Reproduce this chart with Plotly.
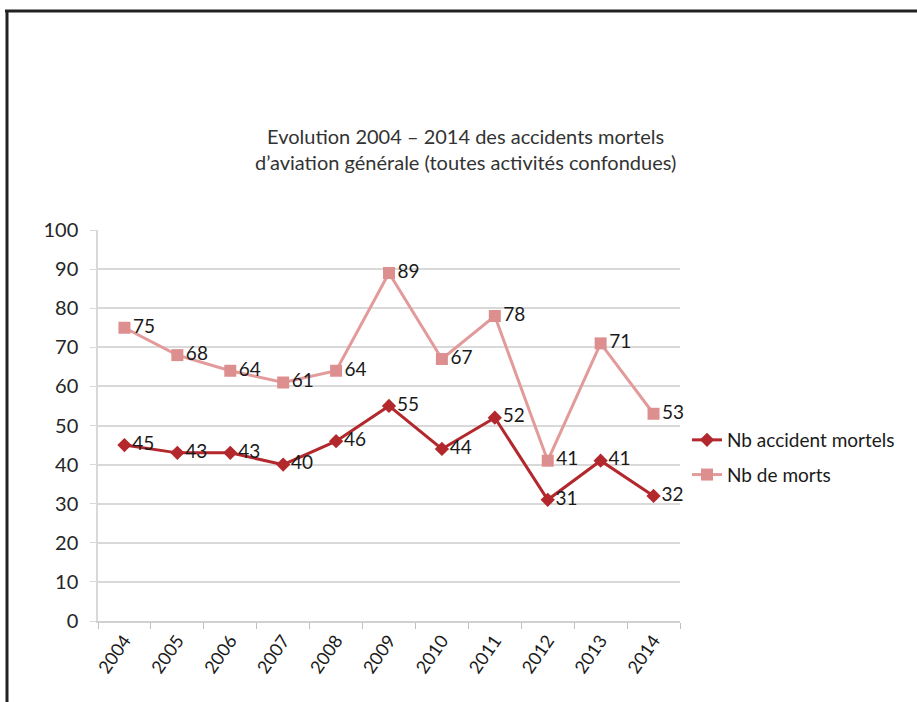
import plotly.graph_objects as go

years = ["2004", "2005", "2006", "2007", "2008", "2009", "2010", "2011", "2012", "2013", "2014"]
accidents = [45, 43, 43, 40, 46, 55, 44, 52, 31, 41, 32]
morts = [75, 68, 64, 61, 64, 89, 67, 78, 41, 71, 53]
y_ticks = [0, 10, 20, 30, 40, 50, 60, 70, 80, 90, 100]

FONT = "Lato"
DARK_RED = "#b3282d"
PINK = "#e39a9a"

fig = go.Figure()
fig.add_trace(go.Scatter(
    x=years, y=accidents, name="Nb accident mortels", legendgroup="a",
    mode="lines+markers+text",
    line=dict(color=DARK_RED, width=3),
    marker=dict(symbol="diamond", size=11, color=DARK_RED),
    text=[str(v) for v in accidents], textposition="middle right",
    textfont=dict(family=FONT, size=19, color="#1a1a1a"),
    cliponaxis=False,
))
fig.add_trace(go.Scatter(
    x=years, y=morts, name="Nb de morts", legendgroup="b",
    mode="lines+markers+text",
    line=dict(color=PINK, width=3),
    marker=dict(symbol="square", size=12, color="#dd8f90"),
    text=[str(v) for v in morts], textposition="middle right",
    textfont=dict(family=FONT, size=19, color="#1a1a1a"),
    cliponaxis=False,
))

L, R, T, B = 98, 237, 230, 81
W, H = 917, 702
pw, ph = W - L - R, H - T - B


def px_x(px):
    return (px - L) / pw


def px_y(py):
    return (H - B - py) / ph


fig.update_layout(
    width=W, height=H,
    margin=dict(l=L, r=R, t=T, b=B, pad=0),
    paper_bgcolor="white", plot_bgcolor="white",
    font=dict(family=FONT, color="#333333"),
    showlegend=True,
    legend=dict(
        x=px_x(687), y=px_y(421), xanchor="left", yanchor="top",
        font=dict(family=FONT, size=19, color="#1a1a1a"),
        traceorder="grouped", tracegroupgap=7,
        bgcolor="rgba(0,0,0,0)",
    ),
    xaxis=dict(
        type="category", tickangle=-55, tickson="boundaries",
        ticks="outside", ticklen=6, tickcolor="#bfbfbf",
        showline=True, linecolor="#d0d0d0", linewidth=2,
        showgrid=False, range=[-0.5, 10.5],
        tickfont=dict(family=FONT, size=18, color="#1a1a1a"),
    ),
    yaxis=dict(
        range=[0, 100], tickvals=y_ticks,
        ticks="outside", ticklen=6, tickcolor="#d9d9d9",
        showline=True, linecolor="#d9d9d9", linewidth=1.5,
        showgrid=True, gridcolor="#d9d9d9", gridwidth=1.5,
        zeroline=False, ticklabelstandoff=8,
        tickfont=dict(family=FONT, size=20, color="#262626"),
    ),
)

fig.add_annotation(
    xref="paper", yref="paper", x=px_x(465), y=px_y(149),
    xanchor="center", yanchor="middle", showarrow=False,
    text="Evolution 2004 – 2014 des accidents mortels<br>d’aviation générale (toutes activités confondues)",
    font=dict(family=FONT, size=20, color="#333333"),
)

# Outer frame: top and left edges
fig.add_shape(type="line", xref="paper", yref="paper",
              x0=px_x(5), x1=px_x(917), y0=px_y(11), y1=px_y(11),
              line=dict(color="#222222", width=3))
fig.add_shape(type="line", xref="paper", yref="paper",
              x0=px_x(7), x1=px_x(7), y0=px_y(10), y1=px_y(702),
              line=dict(color="#222222", width=3))

fig.write_html("out.html")
